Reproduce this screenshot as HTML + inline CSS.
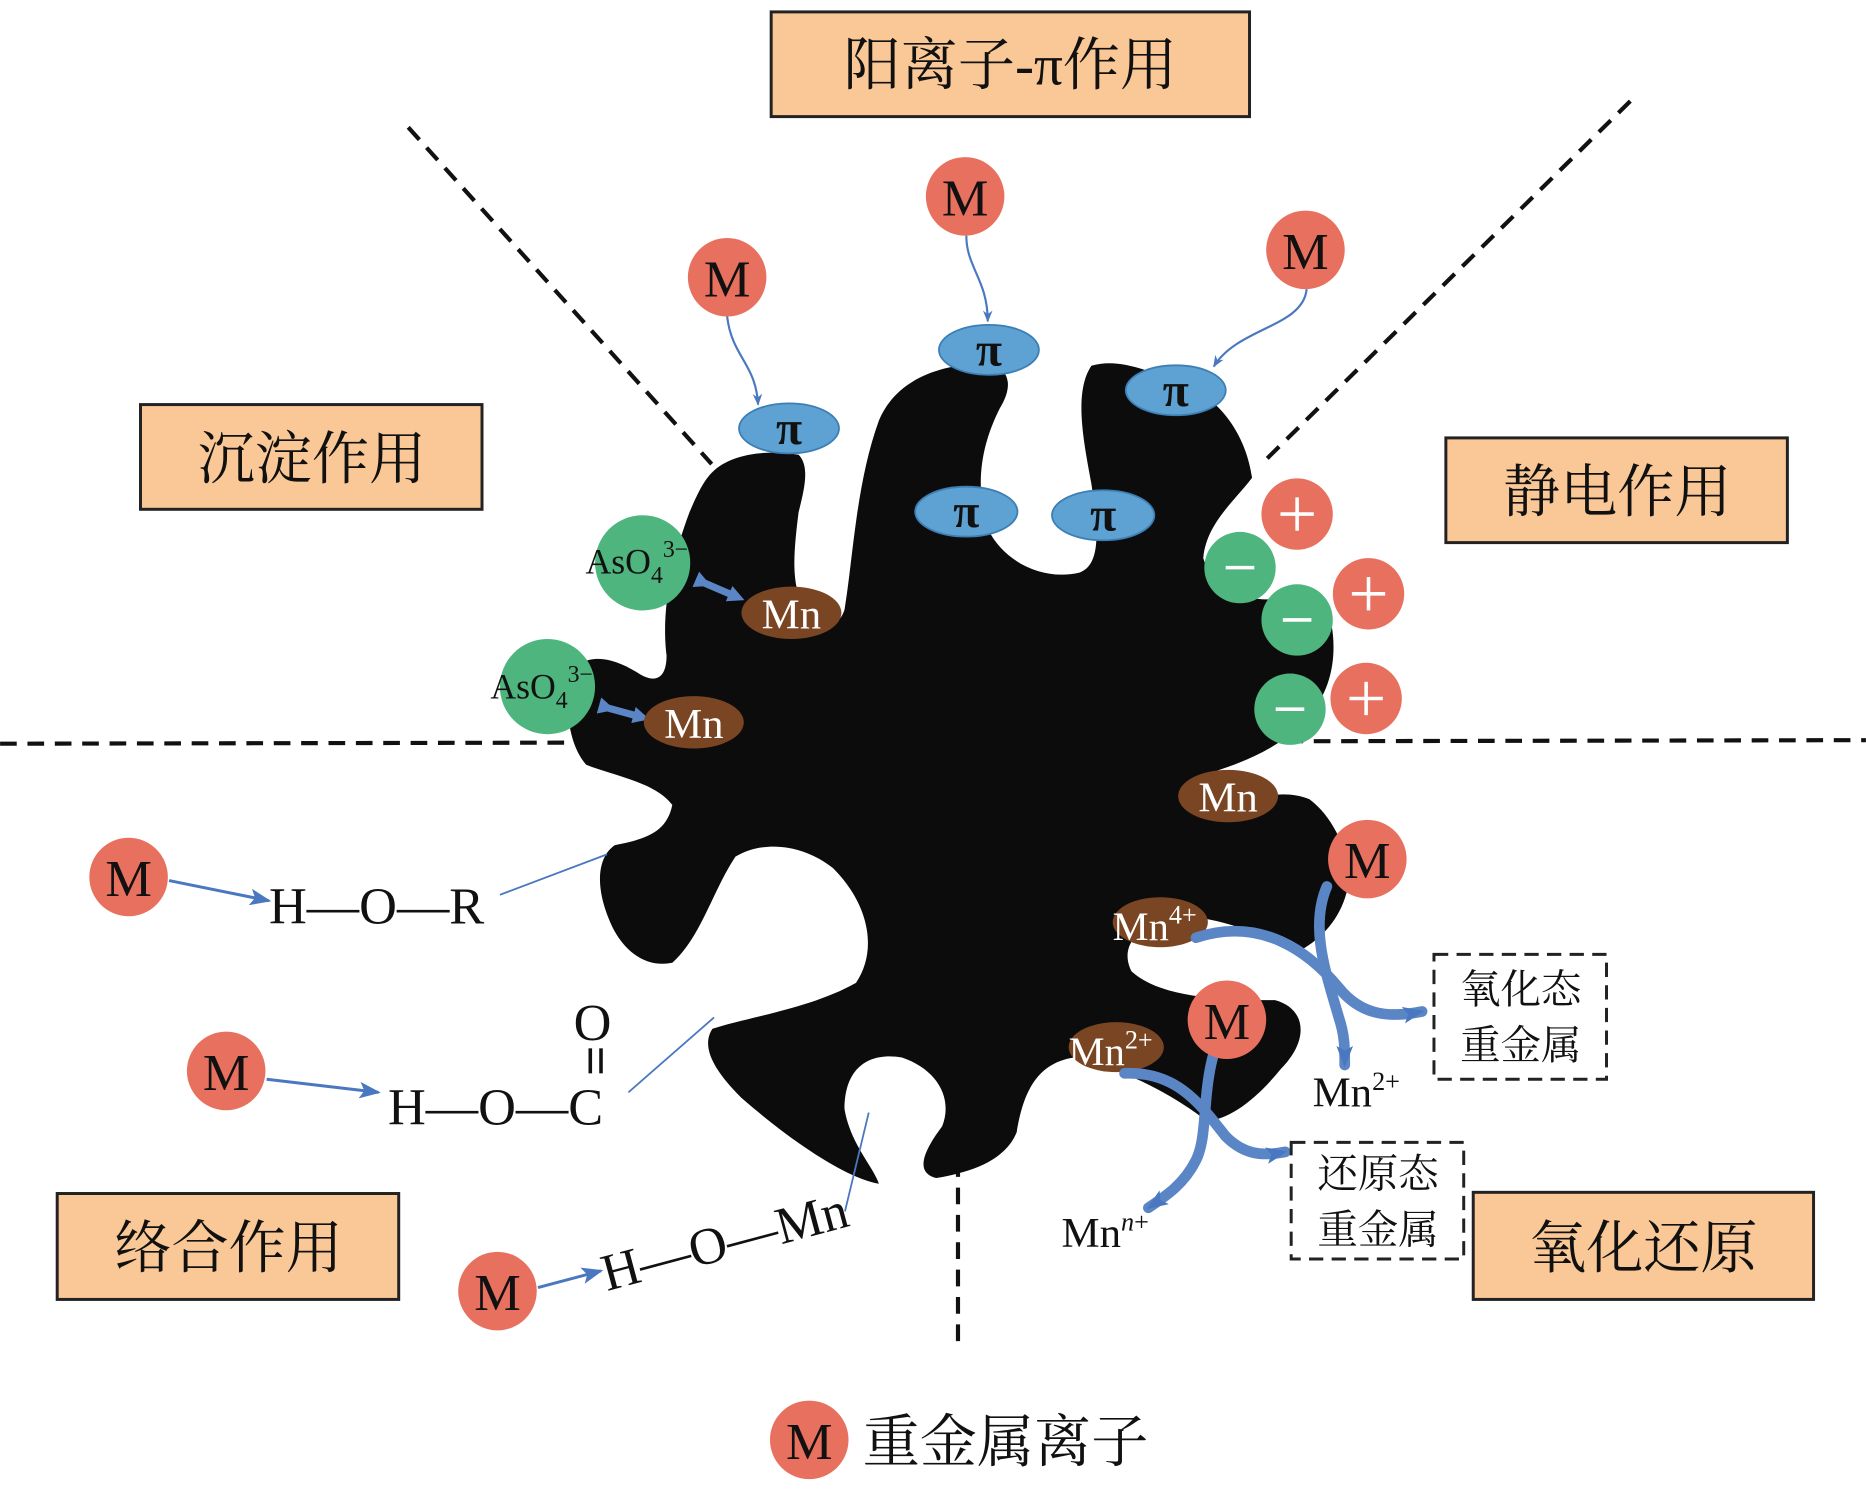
<!DOCTYPE html>
<html><head><meta charset="utf-8"><style>
html,body{margin:0;padding:0;background:#fff}
svg{display:block}
.t{font-family:"Liberation Serif","Noto Serif CJK SC",serif}
.c{font-family:"Liberation Serif","Noto Serif CJK SC","Noto Sans CJK SC",serif}
</style></head><body>
<svg width="1866" height="1491" viewBox="0 0 1568 1253" xmlns="http://www.w3.org/2000/svg">
<defs>
<marker id="ah" markerWidth="10" markerHeight="8" refX="9" refY="4" orient="auto" markerUnits="userSpaceOnUse"><path d="M0,0 L10,4 L0,8 L3,4z" fill="#4a78c0"/></marker>
<marker id="ah2" markerWidth="18" markerHeight="14" refX="16" refY="7" orient="auto" markerUnits="userSpaceOnUse"><path d="M0,0 L18,7 L0,14 L4,7z" fill="#4a78c0"/></marker>
<marker id="bh" markerWidth="14" markerHeight="14" refX="8" refY="7" orient="auto" markerUnits="userSpaceOnUse"><path d="M0,0 L14,7 L0,14z" fill="#5b86c6"/></marker>
</defs>

<!-- dashed lines -->
<g stroke="#111" stroke-width="3.5" stroke-dasharray="14,9" fill="none">
<line x1="343" y1="107" x2="598" y2="390"/>
<line x1="1370" y1="85" x2="1060" y2="390"/>
<line x1="0" y1="625" x2="1568" y2="622"/>
<line x1="805" y1="975" x2="805" y2="1130"/>
</g>

<!-- blob -->
<g transform="translate(420.2,285.7) scale(0.4824)">
<path fill="#0c0c0c" d="M370,230 C400,200 460,190 520,200 C540,220 530,260 520,300 C510,380 505,440 540,480 C570,500 590,500 600,470 C615,380 620,250 660,140 C690,70 760,45 840,40 C890,45 895,80 870,120 C840,180 825,250 850,330 C880,390 950,420 1010,405 C1050,390 1040,320 1030,250 C1015,170 1000,90 1030,45 C1080,30 1130,55 1200,80 C1260,110 1300,170 1310,240 C1280,280 1230,320 1225,380 C1240,430 1300,460 1360,450 C1390,420 1430,430 1445,480 C1460,540 1450,600 1420,640 C1380,700 1310,730 1250,750 C1210,780 1210,810 1250,815 C1310,800 1360,780 1410,800 C1450,830 1470,880 1480,920 C1480,980 1450,1030 1400,1060 C1340,1050 1280,1010 1200,1005 C1120,1010 1075,1050 1100,1100 C1150,1145 1250,1150 1350,1150 C1405,1165 1410,1220 1360,1270 C1320,1320 1270,1360 1230,1360 C1180,1320 1090,1270 1000,1250 C930,1260 910,1320 900,1380 C880,1430 820,1450 760,1460 C720,1450 740,1410 770,1370 C790,1320 760,1270 700,1250 C640,1240 600,1270 600,1340 C610,1400 650,1440 660,1470 C600,1460 500,1390 420,1320 C370,1270 350,1230 370,1200 C430,1180 540,1165 620,1120 C660,1060 640,980 580,920 C530,880 460,870 410,900 C370,960 350,1040 300,1085 C250,1095 210,1060 190,1010 C165,950 170,900 200,880 C250,870 290,860 300,810 C270,770 200,760 150,740 C115,700 110,620 130,570 C160,545 200,555 240,580 C270,600 290,590 290,550 C280,470 300,380 330,300 C345,265 355,245 370,230 Z"/>
</g>

<!-- label boxes -->
<g fill="#f9c896" stroke="#222" stroke-width="2.5">
<rect x="648" y="10" width="402" height="88"/>
<rect x="118" y="340" width="287" height="88"/>
<rect x="1215" y="368" width="287" height="88"/>
<rect x="48" y="1003" width="287" height="89"/>
<rect x="1238" y="1002" width="286" height="90"/>
</g>
<g class="c" font-size="48" fill="#111" text-anchor="middle">
<text x="849" y="71">阳离子-π作用</text>
<text x="262" y="402">沉淀作用</text>
<text x="1359" y="430">静电作用</text>
<text x="192" y="1065">络合作用</text>
<text x="1381" y="1065">氧化还原</text>
</g>

<!-- M to pi arrows -->
<g stroke="#4a78c0" stroke-width="1.8" fill="none" marker-end="url(#ah)">
<path d="M611,266 C615,300 635,305 637,340"/>
<path d="M812,198 C812,225 830,235 830,270"/>
<path d="M1098,243 C1095,275 1040,275 1020,308"/>
</g>

<!-- pi ellipses -->
<g fill="#5da2d2" stroke="#3d7fb5" stroke-width="1.5">
<ellipse cx="663" cy="360" rx="42" ry="21"/>
<ellipse cx="831" cy="294" rx="42" ry="21"/>
<ellipse cx="988" cy="328" rx="42" ry="21"/>
<ellipse cx="812" cy="430" rx="43" ry="21"/>
<ellipse cx="927" cy="433" rx="43" ry="21"/>
</g>
<g class="t" font-size="40" fill="#111" text-anchor="middle" font-weight="bold">
<text x="663" y="373">π</text><text x="831" y="307">π</text><text x="988" y="341">π</text>
<text x="812" y="443">π</text><text x="927" y="446">π</text>
</g>

<!-- AsO4 & Mn -->
<g fill="#4fb57f"><circle cx="540" cy="473" r="40"/><circle cx="460" cy="577" r="40"/></g>
<g class="t" font-size="30" fill="#111">
<text x="492" y="482">AsO<tspan font-size="20" dy="8">4</tspan><tspan font-size="20" dy="-22">3−</tspan></text>
<text x="412" y="587">AsO<tspan font-size="20" dy="8">4</tspan><tspan font-size="20" dy="-22">3−</tspan></text>
</g>
<g stroke="#5b86c6" stroke-width="6" marker-end="url(#bh)" marker-start="url(#bh)">
<line x1="592" y1="490" x2="620" y2="502"/>
<line x1="511" y1="595" x2="540" y2="603"/>
</g>
<g fill="#7a4522">
<ellipse cx="665" cy="515" rx="42" ry="22"/>
<ellipse cx="583" cy="607" rx="42" ry="22"/>
<ellipse cx="1032" cy="669" rx="42" ry="22"/>
<ellipse cx="975" cy="775" rx="40" ry="21"/>
<ellipse cx="938" cy="880" rx="40" ry="21"/>
</g>
<g class="t" font-size="36" fill="#fff" text-anchor="middle">
<text x="665" y="528">Mn</text><text x="583" y="620">Mn</text><text x="1032" y="682">Mn</text>
</g>
<g class="t" font-size="34" fill="#fff">
<text x="935" y="790">Mn<tspan font-size="22" dy="-14">4+</tspan></text>
<text x="898" y="895">Mn<tspan font-size="22" dy="-14">2+</tspan></text>
</g>

<!-- charges -->
<g fill="#4fb57f"><circle cx="1042" cy="477" r="30"/><circle cx="1090" cy="521" r="30"/><circle cx="1084" cy="596" r="30"/></g>
<g fill="#e8705f"><circle cx="1090" cy="432" r="30"/><circle cx="1150" cy="499" r="30"/><circle cx="1148" cy="587" r="30"/></g>
<g stroke="#fff" stroke-width="3">
<line x1="1030" y1="477" x2="1054" y2="477"/><line x1="1078" y1="521" x2="1102" y2="521"/><line x1="1072" y1="596" x2="1096" y2="596"/>
<line x1="1076" y1="432" x2="1104" y2="432"/><line x1="1090" y1="418" x2="1090" y2="446"/>
<line x1="1136" y1="499" x2="1164" y2="499"/><line x1="1150" y1="485" x2="1150" y2="513"/>
<line x1="1134" y1="587" x2="1162" y2="587"/><line x1="1148" y1="573" x2="1148" y2="601"/>
</g>

<!-- redox arrows -->
<g stroke="#5b86c6" stroke-width="9" fill="none" marker-end="url(#ah2)" stroke-linecap="round">
<path d="M1005,788 C1060,770 1100,800 1125,830 C1145,855 1170,855 1195,850"/>
<path d="M1115,745 C1100,780 1115,820 1125,855 C1130,870 1130,880 1130,895"/>
<path d="M945,902 C990,900 1010,930 1030,955 C1045,970 1060,972 1080,968"/>
<path d="M1020,885 C1010,920 1015,955 1005,975 C995,995 980,1005 965,1015"/>
</g>

<!-- M circles -->
<g fill="#e8705f">
<circle cx="611" cy="233" r="33"/><circle cx="811" cy="165" r="33"/><circle cx="1097" cy="210" r="33"/>
<circle cx="108" cy="737" r="33"/><circle cx="190" cy="900" r="33"/><circle cx="418" cy="1085" r="33"/>
<circle cx="1149" cy="722" r="33"/><circle cx="1031" cy="857" r="33"/><circle cx="680" cy="1210" r="33"/>
</g>
<g class="t" font-size="44" fill="#111" text-anchor="middle">
<text x="611" y="249">M</text><text x="811" y="181">M</text><text x="1097" y="226">M</text>
<text x="108" y="753">M</text><text x="190" y="916">M</text><text x="418" y="1101">M</text>
<text x="1149" y="738">M</text><text x="1031" y="873">M</text><text x="680" y="1226">M</text>
</g>

<!-- complexation -->
<g stroke="#4a78c0" stroke-width="2.5" fill="none" marker-end="url(#ah2)">
<line x1="142" y1="740" x2="226" y2="757"/>
<line x1="224" y1="907" x2="318" y2="918"/>
<line x1="452" y1="1082" x2="505" y2="1068"/>
</g>
<g stroke="#4a78c0" stroke-width="1.5">
<line x1="420" y1="752" x2="510" y2="718"/>
<line x1="528" y1="918" x2="600" y2="855"/>
<line x1="710" y1="1018" x2="730" y2="935"/>
</g>
<g class="t" font-size="44" fill="#111">
<text x="226" y="776">H—O—R</text>
<text x="326" y="945">H—O—C</text>
<text x="482" y="874">O</text>
<text transform="translate(510,1085) rotate(-15)">H—O—Mn</text>
</g>
<g stroke="#111" stroke-width="3"><line x1="496" y1="881" x2="496" y2="902"/><line x1="505" y1="881" x2="505" y2="902"/></g>

<g class="t" font-size="36" fill="#111">
<text x="1103" y="930">Mn<tspan font-size="22" dy="-14">2+</tspan></text>
<text x="892" y="1048">Mn<tspan font-size="22" dy="-14" font-style="italic">n</tspan><tspan font-size="22">+</tspan></text>
</g>

<!-- dashed boxes -->
<g fill="none" stroke="#222" stroke-width="2.5" stroke-dasharray="12,7">
<rect x="1205" y="802" width="145" height="105"/>
<rect x="1085" y="960" width="145" height="98"/>
</g>
<g class="c" font-size="34" fill="#111" text-anchor="middle">
<text x="1278" y="843">氧化态</text><text x="1278" y="890">重金属</text>
<text x="1158" y="998">还原态</text><text x="1158" y="1045">重金属</text>
</g>

<text class="c" x="725" y="1228" font-size="48" fill="#111">重金属离子</text>
</svg>
</body></html>
